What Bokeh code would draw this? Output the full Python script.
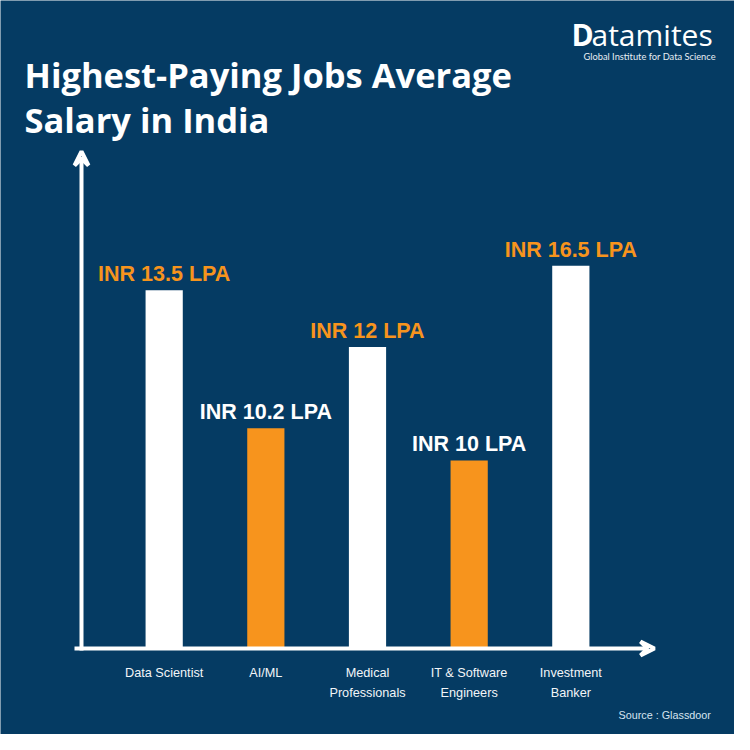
from bokeh.plotting import figure
from bokeh.models import ColumnDataSource, Label, Arrow, VeeHead, Range1d, FactorRange
from bokeh.embed import file_html
from bokeh.resources import INLINE
from bokeh.core.properties import value

# ---- data ----
categories = ["Data Scientist", "AI/ML", "Medical Professionals", "IT & Software Engineers", "Investment Banker"]
axis_labels = ["Data Scientist", "AI/ML", "Medical\nProfessionals", "IT & Software\nEngineers", "Investment\nBanker"]
salary_lpa = [13.5, 10.2, 12, 10, 16.5]
salary_text = ["INR 13.5 LPA", "INR 10.2 LPA", "INR 12 LPA", "INR 10 LPA", "INR 16.5 LPA"]
bar_heights = [14.6, 8.96, 12.28, 7.64, 15.6]  # drawn (illustrative) heights

BG = "#053B63"
ORANGE = "#F7941D"
WHITE = "#FFFFFF"
bar_colors = [WHITE, ORANGE, WHITE, ORANGE, WHITE]
label_colors = [ORANGE, WHITE, ORANGE, WHITE, ORANGE]

W = H = 734

src = ColumnDataSource(dict(cat=categories, lab=axis_labels, h=bar_heights,
                            txt=salary_text, bc=bar_colors, lc=label_colors,
                            zero=[0] * len(categories)))

p = figure(width=W, height=H, output_backend="svg", toolbar_location=None,
           x_range=FactorRange(factors=categories, range_padding=1.11, range_padding_units="absolute"),
           y_range=Range1d(-3.56, 26.44), min_border=0)
p.axis.visible = False
p.grid.visible = False
p.outline_line_color = None
p.background_fill_color = BG
p.border_fill_color = BG

p.vbar(x="cat", top="h", bottom=0, width=0.366, fill_color="bc", line_color=None, source=src)

p.text(x="cat", y="h", text="txt", source=src, text_color="lc", text_align="center",
       text_baseline="bottom", y_offset=-4, text_font=value("Liberation Sans"),
       text_font_style="bold", text_font_size="21.5px")

p.text(x="cat", y="zero", text="lab", source=src, text_color="#F2F5F8", text_align="center",
       text_baseline="top", y_offset=19, text_font=value("Liberation Sans"),
       text_font_size="12.7px", line_height=1.39)

# axes arrows (screen units: origin bottom-left of canvas)
p.add_layout(Arrow(x_start=74, y_start=86, x_end=654, y_end=86,
                   start_units="screen", end_units="screen",
                   line_color=WHITE, line_width=4,
                   end=VeeHead(size=14, line_color=WHITE, line_width=4, fill_color=None)))
p.add_layout(Arrow(x_start=81, y_start=84, x_end=81, y_end=583,
                   start_units="screen", end_units="screen",
                   line_color=WHITE, line_width=4,
                   end=VeeHead(size=14, line_color=WHITE, line_width=4, fill_color=None)))

def lab(x, baseline_from_top, text, size, color=WHITE, font="Open Sans", style="bold"):
    # empirical correction: rendered baseline sits ~0.38 em below the anchor
    y = H - baseline_from_top + 0.38 * size
    p.add_layout(Label(x=x, y=y, x_units="screen", y_units="screen", text=text,
                       text_font=font, text_font_size=f"{size}px", text_font_style=style,
                       text_color=color, text_baseline="alphabetic"))

lab(24, 87.5, "Highest-Paying Jobs Average", 34.5)
lab(24, 132, "Salary in India", 34.5)

# logo
lab(571, 45, "D", 30, font="Open Sans", style="bold")
lab(591, 45, "atamites", 30, font="Open Sans", style="normal")
lab(583, 59.5, "Global Institute for Data Science", 9.3, color="#E8EEF4", font="Lato", style="normal")

# source
lab(618, 719, "Source : Glassdoor", 10.8, color="#D6E4F0", font="Liberation Sans", style="normal")

open("out.html", "w").write(file_html(p, INLINE))
